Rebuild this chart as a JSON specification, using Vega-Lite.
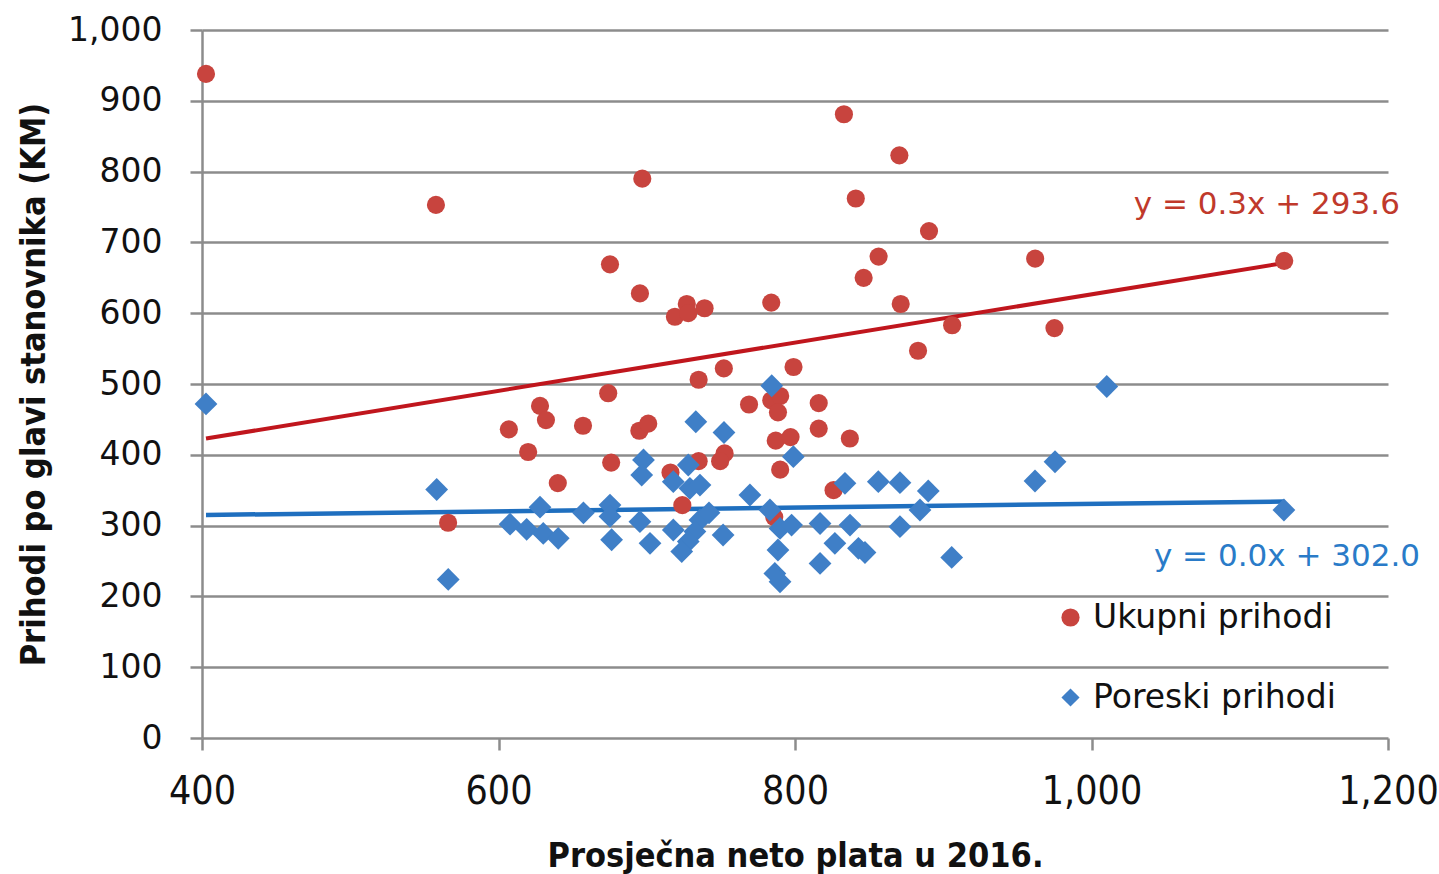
{
  "$schema": "https://vega.github.io/schema/vega-lite/v6.json",
  "width": 1186,
  "height": 708,
  "autosize": "none",
  "padding": {"left": 202, "top": 30, "right": 51, "bottom": 136},
  "background": "white",
  "config": {
    "view": {"stroke": null},
    "axis": {
      "gridColor": "#8c8c8c", "gridWidth": 2.5, "gridOpacity": 1,
      "domainColor": "#8c8c8c", "domainWidth": 2.5,
      "tickColor": "#8c8c8c", "tickWidth": 2.5, "tickSize": 12,
      "labelColor": "#111111", "titleColor": "#111111"
    }
  },
  "datasets": {
    "red": [
      {"x": 402.7, "y": 938, "series": "Ukupni prihodi"},
      {"x": 557.8, "y": 753, "series": "Ukupni prihodi"},
      {"x": 697, "y": 790, "series": "Ukupni prihodi"},
      {"x": 833, "y": 881, "series": "Ukupni prihodi"},
      {"x": 870.4, "y": 823, "series": "Ukupni prihodi"},
      {"x": 841, "y": 762, "series": "Ukupni prihodi"},
      {"x": 890.4, "y": 716, "series": "Ukupni prihodi"},
      {"x": 856.4, "y": 680, "series": "Ukupni prihodi"},
      {"x": 846.3, "y": 650, "series": "Ukupni prihodi"},
      {"x": 675.2, "y": 669, "series": "Ukupni prihodi"},
      {"x": 695.4, "y": 628, "series": "Ukupni prihodi"},
      {"x": 871.3, "y": 613, "series": "Ukupni prihodi"},
      {"x": 784, "y": 615, "series": "Ukupni prihodi"},
      {"x": 719, "y": 595, "series": "Ukupni prihodi"},
      {"x": 727, "y": 613, "series": "Ukupni prihodi"},
      {"x": 728, "y": 600, "series": "Ukupni prihodi"},
      {"x": 739, "y": 607, "series": "Ukupni prihodi"},
      {"x": 962, "y": 677, "series": "Ukupni prihodi"},
      {"x": 1130, "y": 674, "series": "Ukupni prihodi"},
      {"x": 906, "y": 583, "series": "Ukupni prihodi"},
      {"x": 975, "y": 579, "series": "Ukupni prihodi"},
      {"x": 883, "y": 547, "series": "Ukupni prihodi"},
      {"x": 752, "y": 522, "series": "Ukupni prihodi"},
      {"x": 799, "y": 524, "series": "Ukupni prihodi"},
      {"x": 735, "y": 506, "series": "Ukupni prihodi"},
      {"x": 674, "y": 487, "series": "Ukupni prihodi"},
      {"x": 769, "y": 471, "series": "Ukupni prihodi"},
      {"x": 784, "y": 477, "series": "Ukupni prihodi"},
      {"x": 790, "y": 483, "series": "Ukupni prihodi"},
      {"x": 788.5, "y": 460, "series": "Ukupni prihodi"},
      {"x": 816, "y": 473, "series": "Ukupni prihodi"},
      {"x": 816, "y": 437, "series": "Ukupni prihodi"},
      {"x": 837, "y": 423, "series": "Ukupni prihodi"},
      {"x": 787, "y": 420, "series": "Ukupni prihodi"},
      {"x": 797, "y": 425, "series": "Ukupni prihodi"},
      {"x": 790, "y": 379, "series": "Ukupni prihodi"},
      {"x": 826, "y": 350, "series": "Ukupni prihodi"},
      {"x": 628, "y": 469, "series": "Ukupni prihodi"},
      {"x": 632, "y": 449, "series": "Ukupni prihodi"},
      {"x": 607, "y": 436, "series": "Ukupni prihodi"},
      {"x": 620, "y": 404, "series": "Ukupni prihodi"},
      {"x": 640, "y": 360, "series": "Ukupni prihodi"},
      {"x": 657, "y": 441, "series": "Ukupni prihodi"},
      {"x": 676, "y": 389, "series": "Ukupni prihodi"},
      {"x": 695, "y": 434, "series": "Ukupni prihodi"},
      {"x": 701, "y": 444, "series": "Ukupni prihodi"},
      {"x": 566, "y": 304, "series": "Ukupni prihodi"},
      {"x": 716, "y": 375, "series": "Ukupni prihodi"},
      {"x": 735, "y": 391, "series": "Ukupni prihodi"},
      {"x": 752.5, "y": 402, "series": "Ukupni prihodi"},
      {"x": 749.5, "y": 391, "series": "Ukupni prihodi"},
      {"x": 724, "y": 329, "series": "Ukupni prihodi"},
      {"x": 786, "y": 312, "series": "Ukupni prihodi"}
    ],
    "blue": [
      {"x": 402.7, "y": 471.8, "series": "Poreski prihodi"},
      {"x": 558.3, "y": 351, "series": "Poreski prihodi"},
      {"x": 566.1, "y": 224, "series": "Poreski prihodi"},
      {"x": 607.8, "y": 302, "series": "Poreski prihodi"},
      {"x": 619, "y": 294.7, "series": "Poreski prihodi"},
      {"x": 628, "y": 326, "series": "Poreski prihodi"},
      {"x": 630.2, "y": 289, "series": "Poreski prihodi"},
      {"x": 640.3, "y": 282, "series": "Poreski prihodi"},
      {"x": 657.3, "y": 318, "series": "Poreski prihodi"},
      {"x": 675.2, "y": 329, "series": "Poreski prihodi"},
      {"x": 675.2, "y": 313, "series": "Poreski prihodi"},
      {"x": 676.3, "y": 280, "series": "Poreski prihodi"},
      {"x": 697.8, "y": 392.7, "series": "Poreski prihodi"},
      {"x": 696.6, "y": 371.5, "series": "Poreski prihodi"},
      {"x": 695.4, "y": 305.5, "series": "Poreski prihodi"},
      {"x": 702.2, "y": 275, "series": "Poreski prihodi"},
      {"x": 717.9, "y": 362, "series": "Poreski prihodi"},
      {"x": 717.9, "y": 293.8, "series": "Poreski prihodi"},
      {"x": 733.1, "y": 446.7, "series": "Poreski prihodi"},
      {"x": 752.1, "y": 431.5, "series": "Poreski prihodi"},
      {"x": 728, "y": 385.6, "series": "Poreski prihodi"},
      {"x": 729.1, "y": 352.7, "series": "Poreski prihodi"},
      {"x": 735.9, "y": 357.3, "series": "Poreski prihodi"},
      {"x": 769.6, "y": 343.2, "series": "Poreski prihodi"},
      {"x": 735.9, "y": 308, "series": "Poreski prihodi"},
      {"x": 742, "y": 318, "series": "Poreski prihodi"},
      {"x": 732.5, "y": 291.5, "series": "Poreski prihodi"},
      {"x": 728, "y": 277.4, "series": "Poreski prihodi"},
      {"x": 723.6, "y": 263.3, "series": "Poreski prihodi"},
      {"x": 751.5, "y": 286.7, "series": "Poreski prihodi"},
      {"x": 784.3, "y": 497.5, "series": "Poreski prihodi"},
      {"x": 798.9, "y": 397.3, "series": "Poreski prihodi"},
      {"x": 783.1, "y": 322, "series": "Poreski prihodi"},
      {"x": 789.9, "y": 296, "series": "Poreski prihodi"},
      {"x": 797.7, "y": 300.8, "series": "Poreski prihodi"},
      {"x": 788.5, "y": 265.5, "series": "Poreski prihodi"},
      {"x": 786.4, "y": 232.4, "series": "Poreski prihodi"},
      {"x": 789.9, "y": 220.7, "series": "Poreski prihodi"},
      {"x": 816.9, "y": 303, "series": "Poreski prihodi"},
      {"x": 837.1, "y": 300.8, "series": "Poreski prihodi"},
      {"x": 826.9, "y": 274.9, "series": "Poreski prihodi"},
      {"x": 842.8, "y": 267.9, "series": "Poreski prihodi"},
      {"x": 847.2, "y": 262, "series": "Poreski prihodi"},
      {"x": 816.9, "y": 246.6, "series": "Poreski prihodi"},
      {"x": 833.7, "y": 359.7, "series": "Poreski prihodi"},
      {"x": 856.2, "y": 362, "series": "Poreski prihodi"},
      {"x": 870.8, "y": 360.6, "series": "Poreski prihodi"},
      {"x": 889.9, "y": 348.9, "series": "Poreski prihodi"},
      {"x": 884.3, "y": 322, "series": "Poreski prihodi"},
      {"x": 870.8, "y": 298.5, "series": "Poreski prihodi"},
      {"x": 905.7, "y": 255, "series": "Poreski prihodi"},
      {"x": 961.9, "y": 363, "series": "Poreski prihodi"},
      {"x": 975.4, "y": 390.2, "series": "Poreski prihodi"},
      {"x": 1010.3, "y": 496.5, "series": "Poreski prihodi"},
      {"x": 1129.8, "y": 322, "series": "Poreski prihodi"}
    ],
    "trendRed": [
      {"x": 402.7, "y": 423},
      {"x": 1130, "y": 671}
    ],
    "trendBlue": [
      {"x": 402.7, "y": 315},
      {"x": 1130, "y": 334}
    ],
    "eqRed": [
      {"x": 1208, "y": 753, "label": "y = 0.3x + 293.6"}
    ],
    "eqBlue": [
      {"x": 1221.6, "y": 255.6, "label": "y = 0.0x + 302.0"}
    ]
  },
  "layer": [
    {
      "data": {"name": "trendRed"},
      "mark": {"type": "line", "strokeWidth": 4, "color": "#c0161d"},
      "encoding": {
        "x": {"field": "x", "type": "quantitative"},
        "y": {"field": "y", "type": "quantitative"}
      }
    },
    {
      "data": {"name": "trendBlue"},
      "mark": {"type": "line", "strokeWidth": 4.5, "color": "#1f6fbf"},
      "encoding": {
        "x": {"field": "x", "type": "quantitative"},
        "y": {"field": "y", "type": "quantitative"}
      }
    },
    {
      "data": {"name": "red"},
      "mark": {"type": "point", "filled": true, "opacity": 1, "size": 330},
      "encoding": {
        "x": {"field": "x", "type": "quantitative",
          "scale": {"domain": [400, 1200], "nice": false, "zero": false},
          "axis": {"values": [400, 600, 800, 1000, 1200], "format": ",d", "grid": false, "domain": false,
            "labelFlush": false,
            "labelFont": "DejaVu Sans Condensed, DejaVu Sans", "labelFontSize": 39, "labelPadding": 22,
            "title": "Prosječna neto plata u 2016.", "titleFont": "DejaVu Sans Condensed, DejaVu Sans", "titleFontSize": 34,
            "titleFontWeight": "bold", "titlePadding": 28}},
        "y": {"field": "y", "type": "quantitative",
          "scale": {"domain": [0, 1000], "nice": false},
          "axis": {"values": [0, 100, 200, 300, 400, 500, 600, 700, 800, 900, 1000], "format": ",d",
            "labelFont": "DejaVu Sans", "labelFontSize": 33, "labelPadding": 28,
            "title": "Prihodi po glavi stanovnika (KM)", "titleFont": "DejaVu Sans Condensed, DejaVu Sans", "titleFontSize": 34,
            "titleFontWeight": "bold", "titlePadding": 16}},
        "color": {"field": "series", "type": "nominal",
          "scale": {"domain": ["Ukupni prihodi", "Poreski prihodi"], "range": ["#c8443e", "#3f7fc7"]},
          "legend": {"orient": "none", "legendX": 852, "legendY": 571, "title": null,
            "labelFont": "DejaVu Sans", "labelFontSize": 33, "labelColor": "#111111", "symbolSize": 330,
            "labelLimit": 0, "rowPadding": 46, "labelOffset": 6, "padding": 0}},
        "shape": {"field": "series", "type": "nominal",
          "scale": {"domain": ["Ukupni prihodi", "Poreski prihodi"], "range": ["circle", "diamond"]}}
      }
    },
    {
      "data": {"name": "blue"},
      "mark": {"type": "point", "filled": true, "opacity": 1, "size": 520},
      "encoding": {
        "x": {"field": "x", "type": "quantitative"},
        "y": {"field": "y", "type": "quantitative"},
        "color": {"field": "series", "type": "nominal"},
        "shape": {"field": "series", "type": "nominal"}
      }
    },
    {
      "data": {"name": "eqRed"},
      "mark": {"type": "text", "align": "right", "baseline": "middle", "font": "DejaVu Sans", "fontSize": 31, "color": "#c0392b"},
      "encoding": {
        "x": {"field": "x", "type": "quantitative"},
        "y": {"field": "y", "type": "quantitative"},
        "text": {"field": "label"}
      }
    },
    {
      "data": {"name": "eqBlue"},
      "mark": {"type": "text", "align": "right", "baseline": "middle", "font": "DejaVu Sans", "fontSize": 31, "color": "#2a7bc8"},
      "encoding": {
        "x": {"field": "x", "type": "quantitative"},
        "y": {"field": "y", "type": "quantitative"},
        "text": {"field": "label"}
      }
    }
  ]
}
